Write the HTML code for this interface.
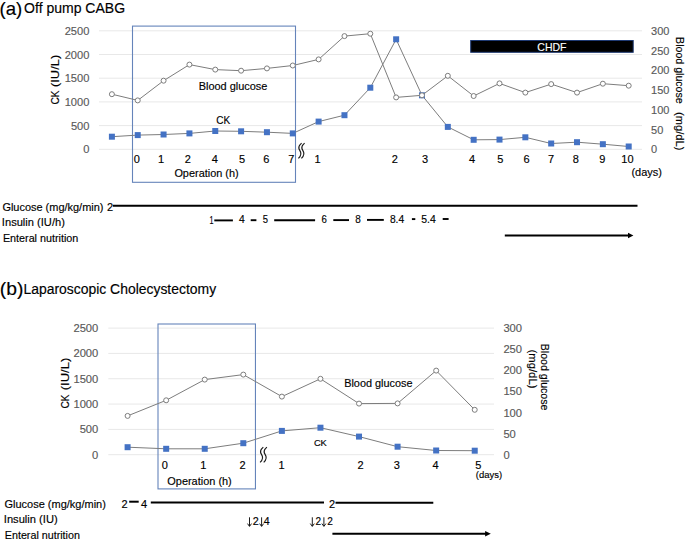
<!DOCTYPE html>
<html><head><meta charset="utf-8"><title>Figure</title>
<style>
html,body{margin:0;padding:0;background:#fff;}
body{width:685px;height:539px;overflow:hidden;position:relative;}
svg{position:absolute;left:0;top:0;display:block;font-family:"Liberation Sans", sans-serif;}
text{stroke-width:0.15px;}
</style></head><body>
<svg width="685" height="539" viewBox="0 0 685 539" font-family='"Liberation Sans", sans-serif'>
<text x="-0.58" y="14.50" font-size="19" fill="#000" stroke="#000" textLength="22.80" lengthAdjust="spacingAndGlyphs">(a)</text>
<text x="24.10" y="12.70" font-size="14" fill="#000" stroke="#000" textLength="100.99" lengthAdjust="spacingAndGlyphs">Off pump CABG</text>
<line x1="99.00" y1="149.30" x2="642.00" y2="149.30" stroke="#e8e8e8" stroke-width="1" />
<line x1="99.00" y1="125.60" x2="642.00" y2="125.60" stroke="#e8e8e8" stroke-width="1" />
<line x1="99.00" y1="101.90" x2="642.00" y2="101.90" stroke="#e8e8e8" stroke-width="1" />
<line x1="99.00" y1="78.20" x2="642.00" y2="78.20" stroke="#e8e8e8" stroke-width="1" />
<line x1="99.00" y1="54.50" x2="642.00" y2="54.50" stroke="#e8e8e8" stroke-width="1" />
<line x1="99.00" y1="30.80" x2="642.00" y2="30.80" stroke="#e8e8e8" stroke-width="1" />
<text x="89.40" y="153.30" font-size="11.1" text-anchor="end" fill="#595959" stroke="#595959" >0</text>
<text x="89.40" y="129.60" font-size="11.1" text-anchor="end" fill="#595959" stroke="#595959" >500</text>
<text x="89.40" y="105.90" font-size="11.1" text-anchor="end" fill="#595959" stroke="#595959" >1000</text>
<text x="89.40" y="82.20" font-size="11.1" text-anchor="end" fill="#595959" stroke="#595959" >1500</text>
<text x="89.40" y="58.50" font-size="11.1" text-anchor="end" fill="#595959" stroke="#595959" >2000</text>
<text x="89.40" y="34.80" font-size="11.1" text-anchor="end" fill="#595959" stroke="#595959" >2500</text>
<text x="651.10" y="153.30" font-size="11.0" text-anchor="start" fill="#595959" stroke="#595959" >0</text>
<text x="651.10" y="133.55" font-size="11.0" text-anchor="start" fill="#595959" stroke="#595959" >50</text>
<text x="651.10" y="113.80" font-size="11.0" text-anchor="start" fill="#595959" stroke="#595959" >100</text>
<text x="651.10" y="94.05" font-size="11.0" text-anchor="start" fill="#595959" stroke="#595959" >150</text>
<text x="651.10" y="74.30" font-size="11.0" text-anchor="start" fill="#595959" stroke="#595959" >200</text>
<text x="651.10" y="54.55" font-size="11.0" text-anchor="start" fill="#595959" stroke="#595959" >250</text>
<text x="651.10" y="34.80" font-size="11.0" text-anchor="start" fill="#595959" stroke="#595959" >300</text>
<rect x="132.5" y="26.1" width="163" height="156.2" fill="none" stroke="#6584ba" stroke-width="1.1"/>
<polyline points="111.90,136.70 137.74,135.10 163.58,134.50 189.42,133.40 215.26,131.00 241.10,131.30 266.94,132.20 292.78,133.40 318.62,121.60 344.46,115.20 370.30,87.70 396.14,39.30 421.98,95.30 447.82,126.90 473.66,139.80 499.50,139.60 525.34,137.30 551.18,143.50 577.02,142.20 602.86,144.20 628.70,146.50" fill="none" stroke="#7d7d7d" stroke-width="1.0"/>
<rect x="108.90" y="133.70" width="6" height="6" fill="#4472c4"/>
<rect x="134.74" y="132.10" width="6" height="6" fill="#4472c4"/>
<rect x="160.58" y="131.50" width="6" height="6" fill="#4472c4"/>
<rect x="186.42" y="130.40" width="6" height="6" fill="#4472c4"/>
<rect x="212.26" y="128.00" width="6" height="6" fill="#4472c4"/>
<rect x="238.10" y="128.30" width="6" height="6" fill="#4472c4"/>
<rect x="263.94" y="129.20" width="6" height="6" fill="#4472c4"/>
<rect x="289.78" y="130.40" width="6" height="6" fill="#4472c4"/>
<rect x="315.62" y="118.60" width="6" height="6" fill="#4472c4"/>
<rect x="341.46" y="112.20" width="6" height="6" fill="#4472c4"/>
<rect x="367.30" y="84.70" width="6" height="6" fill="#4472c4"/>
<rect x="393.14" y="36.30" width="6" height="6" fill="#4472c4"/>
<rect x="418.98" y="92.30" width="6" height="6" fill="#4472c4"/>
<rect x="444.82" y="123.90" width="6" height="6" fill="#4472c4"/>
<rect x="470.66" y="136.80" width="6" height="6" fill="#4472c4"/>
<rect x="496.50" y="136.60" width="6" height="6" fill="#4472c4"/>
<rect x="522.34" y="134.30" width="6" height="6" fill="#4472c4"/>
<rect x="548.18" y="140.50" width="6" height="6" fill="#4472c4"/>
<rect x="574.02" y="139.20" width="6" height="6" fill="#4472c4"/>
<rect x="599.86" y="141.20" width="6" height="6" fill="#4472c4"/>
<rect x="625.70" y="143.50" width="6" height="6" fill="#4472c4"/>
<polyline points="111.90,94.20 137.74,100.40 163.58,80.70 189.42,64.60 215.26,69.60 241.10,70.70 266.94,68.40 292.78,65.50 318.62,59.40 344.46,36.10 370.30,33.70 396.14,97.40 421.98,95.30 447.82,75.80 473.66,96.00 499.50,83.40 525.34,92.60 551.18,84.10 577.02,92.60 602.86,83.70 628.70,85.70" fill="none" stroke="#7d7d7d" stroke-width="1.0"/>
<circle cx="111.90" cy="94.20" r="2.5" fill="#fff" stroke="#7d7d7d" stroke-width="1"/>
<circle cx="137.74" cy="100.40" r="2.5" fill="#fff" stroke="#7d7d7d" stroke-width="1"/>
<circle cx="163.58" cy="80.70" r="2.5" fill="#fff" stroke="#7d7d7d" stroke-width="1"/>
<circle cx="189.42" cy="64.60" r="2.5" fill="#fff" stroke="#7d7d7d" stroke-width="1"/>
<circle cx="215.26" cy="69.60" r="2.5" fill="#fff" stroke="#7d7d7d" stroke-width="1"/>
<circle cx="241.10" cy="70.70" r="2.5" fill="#fff" stroke="#7d7d7d" stroke-width="1"/>
<circle cx="266.94" cy="68.40" r="2.5" fill="#fff" stroke="#7d7d7d" stroke-width="1"/>
<circle cx="292.78" cy="65.50" r="2.5" fill="#fff" stroke="#7d7d7d" stroke-width="1"/>
<circle cx="318.62" cy="59.40" r="2.5" fill="#fff" stroke="#7d7d7d" stroke-width="1"/>
<circle cx="344.46" cy="36.10" r="2.5" fill="#fff" stroke="#7d7d7d" stroke-width="1"/>
<circle cx="370.30" cy="33.70" r="2.5" fill="#fff" stroke="#7d7d7d" stroke-width="1"/>
<circle cx="396.14" cy="97.40" r="2.5" fill="#fff" stroke="#7d7d7d" stroke-width="1"/>
<circle cx="421.98" cy="95.30" r="2.5" fill="#fff" stroke="#7d7d7d" stroke-width="1"/>
<circle cx="447.82" cy="75.80" r="2.5" fill="#fff" stroke="#7d7d7d" stroke-width="1"/>
<circle cx="473.66" cy="96.00" r="2.5" fill="#fff" stroke="#7d7d7d" stroke-width="1"/>
<circle cx="499.50" cy="83.40" r="2.5" fill="#fff" stroke="#7d7d7d" stroke-width="1"/>
<circle cx="525.34" cy="92.60" r="2.5" fill="#fff" stroke="#7d7d7d" stroke-width="1"/>
<circle cx="551.18" cy="84.10" r="2.5" fill="#fff" stroke="#7d7d7d" stroke-width="1"/>
<circle cx="577.02" cy="92.60" r="2.5" fill="#fff" stroke="#7d7d7d" stroke-width="1"/>
<circle cx="602.86" cy="83.70" r="2.5" fill="#fff" stroke="#7d7d7d" stroke-width="1"/>
<circle cx="628.70" cy="85.70" r="2.5" fill="#fff" stroke="#7d7d7d" stroke-width="1"/>
<text x="136.80" y="162.60" font-size="11.0" text-anchor="middle" fill="#000" stroke="#000" >0</text>
<text x="161.00" y="162.60" font-size="11.0" text-anchor="middle" fill="#000" stroke="#000" >1</text>
<text x="187.80" y="162.60" font-size="11.0" text-anchor="middle" fill="#000" stroke="#000" >2</text>
<text x="214.80" y="162.60" font-size="11.0" text-anchor="middle" fill="#000" stroke="#000" >4</text>
<text x="242.00" y="162.60" font-size="11.0" text-anchor="middle" fill="#000" stroke="#000" >5</text>
<text x="266.40" y="162.60" font-size="11.0" text-anchor="middle" fill="#000" stroke="#000" >6</text>
<text x="291.40" y="162.60" font-size="11.0" text-anchor="middle" fill="#000" stroke="#000" >7</text>
<text x="317.50" y="162.60" font-size="11.0" text-anchor="middle" fill="#000" stroke="#000" >1</text>
<text x="394.80" y="162.60" font-size="11.0" text-anchor="middle" fill="#000" stroke="#000" >2</text>
<text x="425.10" y="162.60" font-size="11.0" text-anchor="middle" fill="#000" stroke="#000" >3</text>
<text x="472.00" y="162.60" font-size="11.0" text-anchor="middle" fill="#000" stroke="#000" >4</text>
<text x="500.30" y="162.60" font-size="11.0" text-anchor="middle" fill="#000" stroke="#000" >5</text>
<text x="526.60" y="162.60" font-size="11.0" text-anchor="middle" fill="#000" stroke="#000" >6</text>
<text x="551.10" y="162.60" font-size="11.0" text-anchor="middle" fill="#000" stroke="#000" >7</text>
<text x="575.70" y="162.60" font-size="11.0" text-anchor="middle" fill="#000" stroke="#000" >8</text>
<text x="602.30" y="162.60" font-size="11.0" text-anchor="middle" fill="#000" stroke="#000" >9</text>
<text x="627.40" y="162.60" font-size="11.0" text-anchor="middle" fill="#000" stroke="#000" >10</text>
<text x="174.40" y="177.30" font-size="11.0" fill="#000" stroke="#000" textLength="64.26" lengthAdjust="spacingAndGlyphs">Operation (h)</text>
<text x="631.40" y="176.20" font-size="11.0" fill="#000" stroke="#000" textLength="30.46" lengthAdjust="spacingAndGlyphs">(days)</text>
<text x="198.70" y="89.60" font-size="11.0" fill="#000" stroke="#000" textLength="68.72" lengthAdjust="spacingAndGlyphs">Blood glucose</text>
<text x="216.20" y="124.00" font-size="11.0" fill="#000" stroke="#000" textLength="13.99" lengthAdjust="spacingAndGlyphs">CK</text>
<path d="M301.60,143.10 C298.20,145.90 298.20,148.30 299.90,150.70 S301.40,155.50 298.40,158.40" fill="none" stroke="#1a1a1a" stroke-width="1.2"/>
<path d="M304.60,143.10 C301.20,145.90 301.20,148.30 302.90,150.70 S304.40,155.50 301.40,158.40" fill="none" stroke="#1a1a1a" stroke-width="1.2"/>
<rect x="470.7" y="40.5" width="162.5" height="11.8" fill="#000" stroke="#1f3a73" stroke-width="1"/>
<text x="537.30" y="50.70" font-size="11.4" fill="#fff" stroke="#fff" textLength="29.16" lengthAdjust="spacingAndGlyphs">CHDF</text>
<text x="0.00" y="0.00" font-size="11.0" fill="#000" stroke="#000" textLength="13.99" lengthAdjust="spacingAndGlyphs" transform="translate(58.7,104.5) rotate(-90)">CK</text>
<text x="17.50" y="0.00" font-size="11.0" fill="#000" stroke="#000" textLength="32.18" lengthAdjust="spacingAndGlyphs" transform="translate(58.7,104.5) rotate(-90)">(IU/L)</text>
<text x="0.00" y="0.00" font-size="11.0" fill="#000" stroke="#000" textLength="66.61" lengthAdjust="spacingAndGlyphs" transform="translate(675.5,37.1) rotate(90)">Blood glucose</text>
<text x="75.00" y="0.00" font-size="11.0" fill="#000" stroke="#000" textLength="38.27" lengthAdjust="spacingAndGlyphs" transform="translate(675.5,37.1) rotate(90)">(mg/dL)</text>
<text x="2.40" y="210.50" font-size="11.0" fill="#000" stroke="#000" textLength="101.06" lengthAdjust="spacingAndGlyphs">Glucose (mg/kg/min)</text>
<text x="1.89" y="226.10" font-size="11.0" fill="#000" stroke="#000" textLength="62.98" lengthAdjust="spacingAndGlyphs">Insulin (IU/h)</text>
<text x="2.90" y="241.70" font-size="11.0" fill="#000" stroke="#000" textLength="75.42" lengthAdjust="spacingAndGlyphs">Enteral nutrition</text>
<text x="107.00" y="210.50" font-size="11.0" text-anchor="start" fill="#000" stroke="#000" >2</text>
<line x1="112.90" y1="205.80" x2="637.50" y2="205.80" stroke="#000" stroke-width="2" />
<text x="209.40" y="224.10" font-size="11.0" fill="#000" stroke="#000" textLength="3.98" lengthAdjust="spacingAndGlyphs">1</text>
<text x="238.90" y="222.90" font-size="10.5" fill="#000" stroke="#000" textLength="5.74" lengthAdjust="spacingAndGlyphs">4</text>
<text x="262.70" y="222.90" font-size="10.5" fill="#000" stroke="#000" textLength="5.26" lengthAdjust="spacingAndGlyphs">5</text>
<text x="321.40" y="222.90" font-size="10.5" fill="#000" stroke="#000" textLength="5.35" lengthAdjust="spacingAndGlyphs">6</text>
<text x="355.20" y="222.90" font-size="10.5" fill="#000" stroke="#000" textLength="5.55" lengthAdjust="spacingAndGlyphs">8</text>
<text x="389.90" y="222.90" font-size="10.5" fill="#000" stroke="#000" textLength="14.34" lengthAdjust="spacingAndGlyphs">8.4</text>
<text x="421.20" y="222.90" font-size="10.5" fill="#000" stroke="#000" textLength="14.54" lengthAdjust="spacingAndGlyphs">5.4</text>
<line x1="214.30" y1="220.40" x2="232.90" y2="220.40" stroke="#000" stroke-width="1.9" />
<line x1="250.70" y1="220.20" x2="256.40" y2="220.20" stroke="#000" stroke-width="1.9" />
<line x1="274.20" y1="220.30" x2="315.10" y2="220.30" stroke="#000" stroke-width="1.9" />
<line x1="333.30" y1="220.10" x2="349.00" y2="220.10" stroke="#000" stroke-width="1.9" />
<line x1="367.00" y1="219.90" x2="383.80" y2="219.90" stroke="#000" stroke-width="1.9" />
<line x1="411.90" y1="219.10" x2="415.30" y2="219.10" stroke="#000" stroke-width="1.9" />
<line x1="442.70" y1="219.00" x2="448.60" y2="219.00" stroke="#000" stroke-width="1.9" />
<line x1="504.80" y1="235.50" x2="629.00" y2="235.50" stroke="#000" stroke-width="2.0" />
<path d="M628,232.7 L633.4,235.5 L628,238.3 Z" fill="#000"/>
<text x="-0.32" y="295.40" font-size="19" fill="#000" stroke="#000" textLength="23.65" lengthAdjust="spacingAndGlyphs">(b)</text>
<text x="23.41" y="294.10" font-size="14" fill="#000" stroke="#000" textLength="192.69" lengthAdjust="spacingAndGlyphs">Laparoscopic Cholecystectomy</text>
<line x1="108.30" y1="454.70" x2="494.00" y2="454.70" stroke="#e8e8e8" stroke-width="1" />
<line x1="108.30" y1="429.38" x2="494.00" y2="429.38" stroke="#e8e8e8" stroke-width="1" />
<line x1="108.30" y1="404.06" x2="494.00" y2="404.06" stroke="#e8e8e8" stroke-width="1" />
<line x1="108.30" y1="378.74" x2="494.00" y2="378.74" stroke="#e8e8e8" stroke-width="1" />
<line x1="108.30" y1="353.42" x2="494.00" y2="353.42" stroke="#e8e8e8" stroke-width="1" />
<line x1="108.30" y1="328.10" x2="494.00" y2="328.10" stroke="#e8e8e8" stroke-width="1" />
<text x="98.30" y="458.70" font-size="11.2" text-anchor="end" fill="#595959" stroke="#595959" >0</text>
<text x="98.30" y="433.38" font-size="11.2" text-anchor="end" fill="#595959" stroke="#595959" >500</text>
<text x="98.30" y="408.06" font-size="11.2" text-anchor="end" fill="#595959" stroke="#595959" >1000</text>
<text x="98.30" y="382.74" font-size="11.2" text-anchor="end" fill="#595959" stroke="#595959" >1500</text>
<text x="98.30" y="357.42" font-size="11.2" text-anchor="end" fill="#595959" stroke="#595959" >2000</text>
<text x="98.30" y="332.10" font-size="11.2" text-anchor="end" fill="#595959" stroke="#595959" >2500</text>
<text x="503.40" y="458.70" font-size="11.2" text-anchor="start" fill="#595959" stroke="#595959" >0</text>
<text x="503.40" y="437.60" font-size="11.2" text-anchor="start" fill="#595959" stroke="#595959" >50</text>
<text x="503.40" y="416.50" font-size="11.2" text-anchor="start" fill="#595959" stroke="#595959" >100</text>
<text x="503.40" y="395.40" font-size="11.2" text-anchor="start" fill="#595959" stroke="#595959" >150</text>
<text x="503.40" y="374.30" font-size="11.2" text-anchor="start" fill="#595959" stroke="#595959" >200</text>
<text x="503.40" y="353.20" font-size="11.2" text-anchor="start" fill="#595959" stroke="#595959" >250</text>
<text x="503.40" y="332.10" font-size="11.2" text-anchor="start" fill="#595959" stroke="#595959" >300</text>
<rect x="158.0" y="324.0" width="97.45" height="164.9" fill="none" stroke="#6584ba" stroke-width="1.1"/>
<polyline points="127.60,447.20 166.17,448.80 204.74,448.80 243.31,443.20 281.88,430.90 320.45,427.70 359.02,436.60 397.59,446.70 436.16,450.50 474.73,450.70" fill="none" stroke="#7d7d7d" stroke-width="1.0"/>
<rect x="124.60" y="444.20" width="6" height="6" fill="#4472c4"/>
<rect x="163.17" y="445.80" width="6" height="6" fill="#4472c4"/>
<rect x="201.74" y="445.80" width="6" height="6" fill="#4472c4"/>
<rect x="240.31" y="440.20" width="6" height="6" fill="#4472c4"/>
<rect x="278.88" y="427.90" width="6" height="6" fill="#4472c4"/>
<rect x="317.45" y="424.70" width="6" height="6" fill="#4472c4"/>
<rect x="356.02" y="433.60" width="6" height="6" fill="#4472c4"/>
<rect x="394.59" y="443.70" width="6" height="6" fill="#4472c4"/>
<rect x="433.16" y="447.50" width="6" height="6" fill="#4472c4"/>
<rect x="471.73" y="447.70" width="6" height="6" fill="#4472c4"/>
<polyline points="127.60,415.90 166.17,400.30 204.74,379.60 243.31,374.60 281.88,396.60 320.45,378.80 359.02,403.60 397.59,403.40 436.16,370.60 474.73,409.80" fill="none" stroke="#7d7d7d" stroke-width="1.0"/>
<circle cx="127.60" cy="415.90" r="2.5" fill="#fff" stroke="#7d7d7d" stroke-width="1"/>
<circle cx="166.17" cy="400.30" r="2.5" fill="#fff" stroke="#7d7d7d" stroke-width="1"/>
<circle cx="204.74" cy="379.60" r="2.5" fill="#fff" stroke="#7d7d7d" stroke-width="1"/>
<circle cx="243.31" cy="374.60" r="2.5" fill="#fff" stroke="#7d7d7d" stroke-width="1"/>
<circle cx="281.88" cy="396.60" r="2.5" fill="#fff" stroke="#7d7d7d" stroke-width="1"/>
<circle cx="320.45" cy="378.80" r="2.5" fill="#fff" stroke="#7d7d7d" stroke-width="1"/>
<circle cx="359.02" cy="403.60" r="2.5" fill="#fff" stroke="#7d7d7d" stroke-width="1"/>
<circle cx="397.59" cy="403.40" r="2.5" fill="#fff" stroke="#7d7d7d" stroke-width="1"/>
<circle cx="436.16" cy="370.60" r="2.5" fill="#fff" stroke="#7d7d7d" stroke-width="1"/>
<circle cx="474.73" cy="409.80" r="2.5" fill="#fff" stroke="#7d7d7d" stroke-width="1"/>
<text x="164.70" y="468.90" font-size="11.0" text-anchor="middle" fill="#000" stroke="#000" >0</text>
<text x="203.30" y="468.90" font-size="11.0" text-anchor="middle" fill="#000" stroke="#000" >1</text>
<text x="242.50" y="468.90" font-size="11.0" text-anchor="middle" fill="#000" stroke="#000" >2</text>
<text x="281.60" y="468.90" font-size="11.0" text-anchor="middle" fill="#000" stroke="#000" >1</text>
<text x="360.50" y="468.90" font-size="11.0" text-anchor="middle" fill="#000" stroke="#000" >2</text>
<text x="396.70" y="468.90" font-size="11.0" text-anchor="middle" fill="#000" stroke="#000" >3</text>
<text x="435.60" y="468.90" font-size="11.0" text-anchor="middle" fill="#000" stroke="#000" >4</text>
<text x="478.20" y="468.90" font-size="11.0" text-anchor="middle" fill="#000" stroke="#000" >5</text>
<text x="475.80" y="478.30" font-size="9.2" fill="#000" stroke="#000" textLength="26.26" lengthAdjust="spacingAndGlyphs">(days)</text>
<text x="167.30" y="484.60" font-size="11.0" fill="#000" stroke="#000" textLength="64.46" lengthAdjust="spacingAndGlyphs">Operation (h)</text>
<text x="344.20" y="386.80" font-size="11.0" fill="#000" stroke="#000" textLength="68.32" lengthAdjust="spacingAndGlyphs">Blood glucose</text>
<text x="313.90" y="445.60" font-size="9.8" fill="#000" stroke="#000" textLength="12.96" lengthAdjust="spacingAndGlyphs">CK</text>
<path d="M263.30,447.10 C259.90,449.90 259.90,452.30 261.60,454.70 S263.10,459.50 260.10,462.40" fill="none" stroke="#1a1a1a" stroke-width="1.2"/>
<path d="M266.90,447.10 C263.50,449.90 263.50,452.30 265.20,454.70 S266.70,459.50 263.70,462.40" fill="none" stroke="#1a1a1a" stroke-width="1.2"/>
<text x="0.00" y="0.00" font-size="11.0" fill="#000" stroke="#000" textLength="13.99" lengthAdjust="spacingAndGlyphs" transform="translate(68.7,408.6) rotate(-90)">CK</text>
<text x="18.40" y="0.00" font-size="11.0" fill="#000" stroke="#000" textLength="32.48" lengthAdjust="spacingAndGlyphs" transform="translate(68.7,408.6) rotate(-90)">(IU/L)</text>
<text x="0.00" y="0.00" font-size="11.0" fill="#000" stroke="#000" textLength="66.81" lengthAdjust="spacingAndGlyphs" transform="translate(541.3,343.7) rotate(90)">Blood glucose</text>
<text x="0.00" y="0.00" font-size="11.0" fill="#000" stroke="#000" textLength="38.98" lengthAdjust="spacingAndGlyphs" transform="translate(529.3,349.5) rotate(90)">(mg/dL)</text>
<text x="4.50" y="507.50" font-size="11.0" fill="#000" stroke="#000" textLength="101.36" lengthAdjust="spacingAndGlyphs">Glucose (mg/kg/min)</text>
<text x="3.79" y="523.10" font-size="11.0" fill="#000" stroke="#000" textLength="53.89" lengthAdjust="spacingAndGlyphs">Insulin (IU)</text>
<text x="4.80" y="538.70" font-size="11.0" fill="#000" stroke="#000" textLength="75.11" lengthAdjust="spacingAndGlyphs">Enteral nutrition</text>
<text x="121.60" y="507.50" font-size="11.0" text-anchor="start" fill="#000" stroke="#000" >2</text>
<line x1="129.20" y1="501.70" x2="138.70" y2="501.70" stroke="#000" stroke-width="2.0" />
<text x="141.00" y="507.50" font-size="11.0" text-anchor="start" fill="#000" stroke="#000" >4</text>
<line x1="150.80" y1="502.50" x2="324.00" y2="502.50" stroke="#000" stroke-width="2.0" />
<text x="328.90" y="507.50" font-size="11.0" text-anchor="start" fill="#000" stroke="#000" >2</text>
<line x1="335.50" y1="502.70" x2="433.30" y2="502.70" stroke="#000" stroke-width="2.0" />
<path d="M249.50,517.30 V526.10 M247.50,523.60 L249.50,526.40 L251.50,523.60" fill="none" stroke="#111" stroke-width="0.95"/>
<text x="252.80" y="525.00" font-size="11.0" fill="#000" stroke="#000" textLength="6.02" lengthAdjust="spacingAndGlyphs">2</text>
<path d="M261.60,517.30 V526.10 M259.60,523.60 L261.60,526.40 L263.60,523.60" fill="none" stroke="#111" stroke-width="0.95"/>
<text x="263.80" y="525.00" font-size="11.0" fill="#000" stroke="#000" textLength="5.91" lengthAdjust="spacingAndGlyphs">4</text>
<path d="M312.30,517.30 V526.10 M310.30,523.60 L312.30,526.40 L314.30,523.60" fill="none" stroke="#111" stroke-width="0.95"/>
<text x="315.50" y="525.00" font-size="11.0" fill="#000" stroke="#000" textLength="5.61" lengthAdjust="spacingAndGlyphs">2</text>
<path d="M323.90,517.30 V526.10 M321.90,523.60 L323.90,526.40 L325.90,523.60" fill="none" stroke="#111" stroke-width="0.95"/>
<text x="327.20" y="525.00" font-size="11.0" fill="#000" stroke="#000" textLength="5.61" lengthAdjust="spacingAndGlyphs">2</text>
<line x1="332.40" y1="533.80" x2="486.00" y2="533.80" stroke="#000" stroke-width="2.0" />
<path d="M485.1,531.0 L490.8,533.8 L485.1,536.6 Z" fill="#000"/>
</svg>
</body></html>
